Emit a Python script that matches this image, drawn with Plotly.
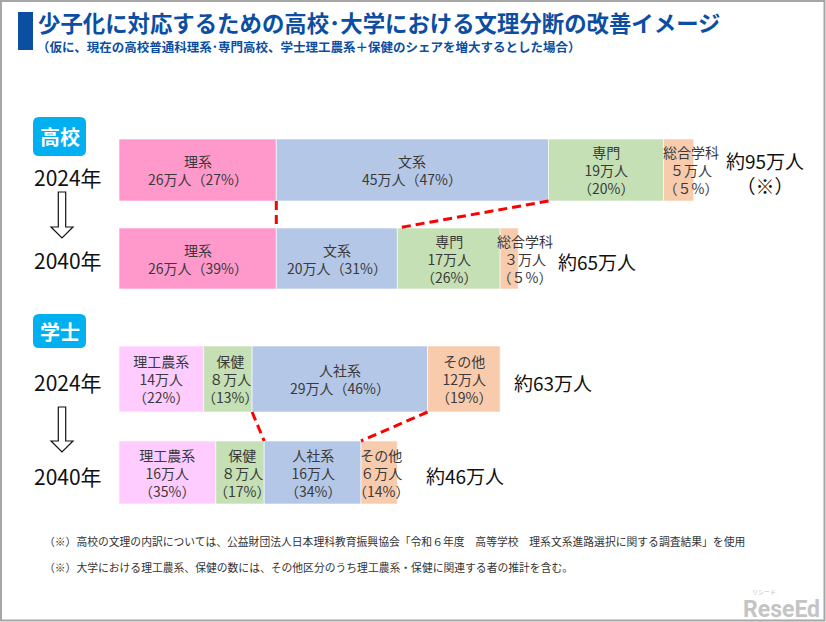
import plotly.graph_objects as go

W, H = 826, 622

# ---------------- data ----------------
title = "少子化に対応するための高校･大学における文理分断の改善イメージ"
subtitle = "（仮に、現在の高校普通科理系･専門高校、学士理工農系＋保健のシェアを増大するとした場合）"

hs_cats = ["理系", "文系", "専門", "総合学科"]
hs_2024 = [26, 45, 19, 5]
hs_2024_pct = [27, 47, 20, 5]
hs_2040 = [26, 20, 17, 3]
hs_2040_pct = [39, 31, 26, 5]
hs_totals = [95, 65]

ba_cats = ["理工農系", "保健", "人社系", "その他"]
ba_2024 = [14, 8, 29, 12]
ba_2024_pct = [22, 13, 46, 19]
ba_2040 = [16, 8, 16, 6]
ba_2040_pct = [35, 17, 34, 14]
ba_totals = [63, 46]

years = ["2024年", "2040年"]
groups = ["高校", "学士"]
notes = [
    "（※）高校の文理の内訳については、公益財団法人日本理科教育振興協会「令和６年度　高等学校　理系文系進路選択に関する調査結果」を使用",
    "（※）大学における理工農系、保健の数には、その他区分のうち理工農系・保健に関連する者の推計を含む。",
]

# ---------------- styles / layout ----------------
FONT = "Noto Sans CJK JP"
BLUE = "#0B4EA2"
hs_colors = ["#FF99CC", "#B4C7E7", "#C5E0B4", "#F8CBAD"]
ba_colors = ["#FFCCFF", "#C5E0B4", "#B4C7E7", "#F8CBAD"]
X0_PX = 119.0          # pixel of value 0
PX_PER = 6.05          # pixels per 万人

rows = [
    dict(cats=hs_cats, vals=hs_2024, pct=hs_2024_pct, colors=hs_colors, yc=170, h=62,
         three=[False, False, True, True], lshift=[0, 0, 0, 12],
         total=hs_totals[0], tshift=30, tsuffix="<br>（※）", year=years[0], yy=177),
    dict(cats=hs_cats, vals=hs_2040, pct=hs_2040_pct, colors=hs_colors, yc=258.5, h=61,
         three=[False, False, True, True], lshift=[0, 0, 0, 16],
         total=hs_totals[1], tshift=44, tsuffix="", year=years[1], yy=260),
    dict(cats=ba_cats, vals=ba_2024, pct=ba_2024_pct, colors=ba_colors, yc=379, h=66,
         three=[True, True, False, True], lshift=[0, 2, 0, 0],
         total=ba_totals[0], tshift=12, tsuffix="", year=years[0], yy=382),
    dict(cats=ba_cats, vals=ba_2040, pct=ba_2040_pct, colors=ba_colors, yc=472.5, h=63,
         three=[True, True, True, True], lshift=[0, 2, 0, 2],
         total=ba_totals[1], tshift=27, tsuffix="", year=years[1], yy=476),
]

FW = str.maketrans("0123456789", "０１２３４５６７８９")


def num(n):
    return str(n).translate(FW) if n < 10 else str(n)


def px(x):
    return x / W


def cumsum(v):
    out, s = [], 0
    for a in v:
        out.append(s)
        s += a
    return out


fig = go.Figure()
annotations = []
shapes = []

for r in rows:
    bases = cumsum(r["vals"])
    fig.add_trace(go.Bar(
        orientation="h", y=[r["yc"]] * len(r["vals"]), x=r["vals"], base=bases,
        width=r["h"], marker=dict(color=r["colors"], line=dict(color="white", width=0.6)),
        hoverinfo="skip", showlegend=False,
    ))
    for c, v, p, b, t3, sh in zip(r["cats"], r["vals"], r["pct"], bases, r["three"], r["lshift"]):
        txt = f"{c}<br>{num(v)}万人" + ("<br>" if t3 else "") + f"（{num(p)}%）"
        annotations.append(dict(
            x=b + v / 2, y=r["yc"], xref="x", yref="y", text=txt, showarrow=False,
            xanchor="center", yanchor="middle", xshift=sh, yshift=0,
            font=dict(family=FONT, size=14, color="#3A3A3A"), align="center"))
    annotations.append(dict(
        x=r["total"], y=r["yc"] + 3, xref="x", yref="y", text=f"約{r['total']}万人{r['tsuffix']}",
        showarrow=False, xanchor="left", yanchor="middle", xshift=r["tshift"],
        font=dict(family=FONT, size=19, color="#111111"), align="center"))
    annotations.append(dict(
        x=px(68), y=r["yy"], xref="paper", yref="y", text=r["year"], showarrow=False,
        xanchor="center", yanchor="middle", font=dict(family=FONT, size=21, color="#111111")))


# dashed connectors between 2024 and 2040 boundaries
def connectors(r_top, r_bot, idxs):
    bt = cumsum(r_top["vals"] + [0])
    bb = cumsum(r_bot["vals"] + [0])
    for i in idxs:
        shapes.append(dict(
            type="line", xref="x", yref="y",
            x0=bt[i + 1], y0=r_top["yc"] + r_top["h"] / 2,
            x1=bb[i + 1], y1=r_bot["yc"] - r_bot["h"] / 2,
            line=dict(color="#FF0000", width=3, dash="9px,5px")))


connectors(rows[0], rows[1], [0, 1])
connectors(rows[2], rows[3], [1, 2])


def rrect(x0, y0, x1, y1, r):
    return (f"M {px(x0 + r)},{y0} L {px(x1 - r)},{y0} Q {px(x1)},{y0} {px(x1)},{y0 + r} "
            f"L {px(x1)},{y1 - r} Q {px(x1)},{y1} {px(x1 - r)},{y1} L {px(x0 + r)},{y1} "
            f"Q {px(x0)},{y1} {px(x0)},{y1 - r} L {px(x0)},{y0 + r} Q {px(x0)},{y0} {px(x0 + r)},{y0} Z")


# group badges
for g, (y0, y1) in zip(groups, [(117, 156), (314, 348)]):
    shapes.append(dict(type="path", xref="paper", yref="y", path=rrect(33, y0, 86, y1, 6),
                       fillcolor="#00B0F0", line=dict(width=0)))
    annotations.append(dict(x=px(59.5), y=(y0 + y1) / 2, xref="paper", yref="y",
                            text=f"<b>{g}</b>", showarrow=False, xanchor="center", yanchor="middle",
                            font=dict(family=FONT, size=20, color="white")))


# hollow down arrows
def arrow(cx, ytop, yhead, ytip, sw=3.7, hw=11):
    return (f"M {px(cx - sw)},{ytop} L {px(cx + sw)},{ytop} L {px(cx + sw)},{yhead} "
            f"L {px(cx + hw)},{yhead} L {px(cx)},{ytip} L {px(cx - hw)},{yhead} "
            f"L {px(cx - sw)},{yhead} Z")


for (a, b, c) in [(192, 227, 238), (407, 441, 452)]:
    shapes.append(dict(type="path", xref="paper", yref="y", path=arrow(62, a, b, c),
                       fillcolor="white", line=dict(color="#111111", width=1.2)))

# title block
shapes.append(dict(type="rect", xref="paper", yref="y", x0=px(18), x1=px(33), y0=12, y1=50,
                   fillcolor=BLUE, line=dict(width=0)))
annotations.append(dict(x=px(36), y=22, xref="paper", yref="y", text=f"<b>{title}</b>",
                        showarrow=False, xanchor="left", yanchor="middle",
                        font=dict(family=FONT, size=22.4, color=BLUE)))
annotations.append(dict(x=px(35), y=46.5, xref="paper", yref="y", text=f"<b>{subtitle}</b>",
                        showarrow=False, xanchor="left", yanchor="middle",
                        font=dict(family=FONT, size=12.5, color=BLUE)))

# footnotes
for note, yv in zip(notes, [541, 567]):
    annotations.append(dict(x=px(42), y=yv, xref="paper", yref="y", text=note, showarrow=False,
                            xanchor="left", yanchor="middle",
                            font=dict(family=FONT, size=10.8, color="#333333")))

# logo
annotations.append(dict(x=px(741), y=609, xref="paper", yref="y", text="<b>ReseEd</b>",
                        showarrow=False, xanchor="left", yanchor="middle",
                        font=dict(family="Roboto", size=23, color="#C4C4C4")))
annotations.append(dict(x=px(750), y=591, xref="paper", yref="y", text="リシード",
                        showarrow=False, xanchor="left", yanchor="middle",
                        font=dict(family=FONT, size=6, color="#BBBBBB")))

# frame
shapes.append(dict(type="rect", xref="paper", yref="paper", x0=px(1), x1=px(824.5),
                   y0=1 - 620.5 / H, y1=1 - 1 / H, line=dict(color="#A6A6A6", width=2)))

fig.update_layout(
    width=W, height=H, margin=dict(l=0, r=0, t=0, b=0),
    paper_bgcolor="white", plot_bgcolor="white", barmode="overlay",
    xaxis=dict(range=[-X0_PX / PX_PER, (W - X0_PX) / PX_PER], visible=False, fixedrange=True),
    yaxis=dict(range=[H, 0], visible=False, fixedrange=True),
    annotations=annotations, shapes=shapes, showlegend=False,
)

fig.write_html("out.html", config={"displayModeBar": False, "responsive": False})
